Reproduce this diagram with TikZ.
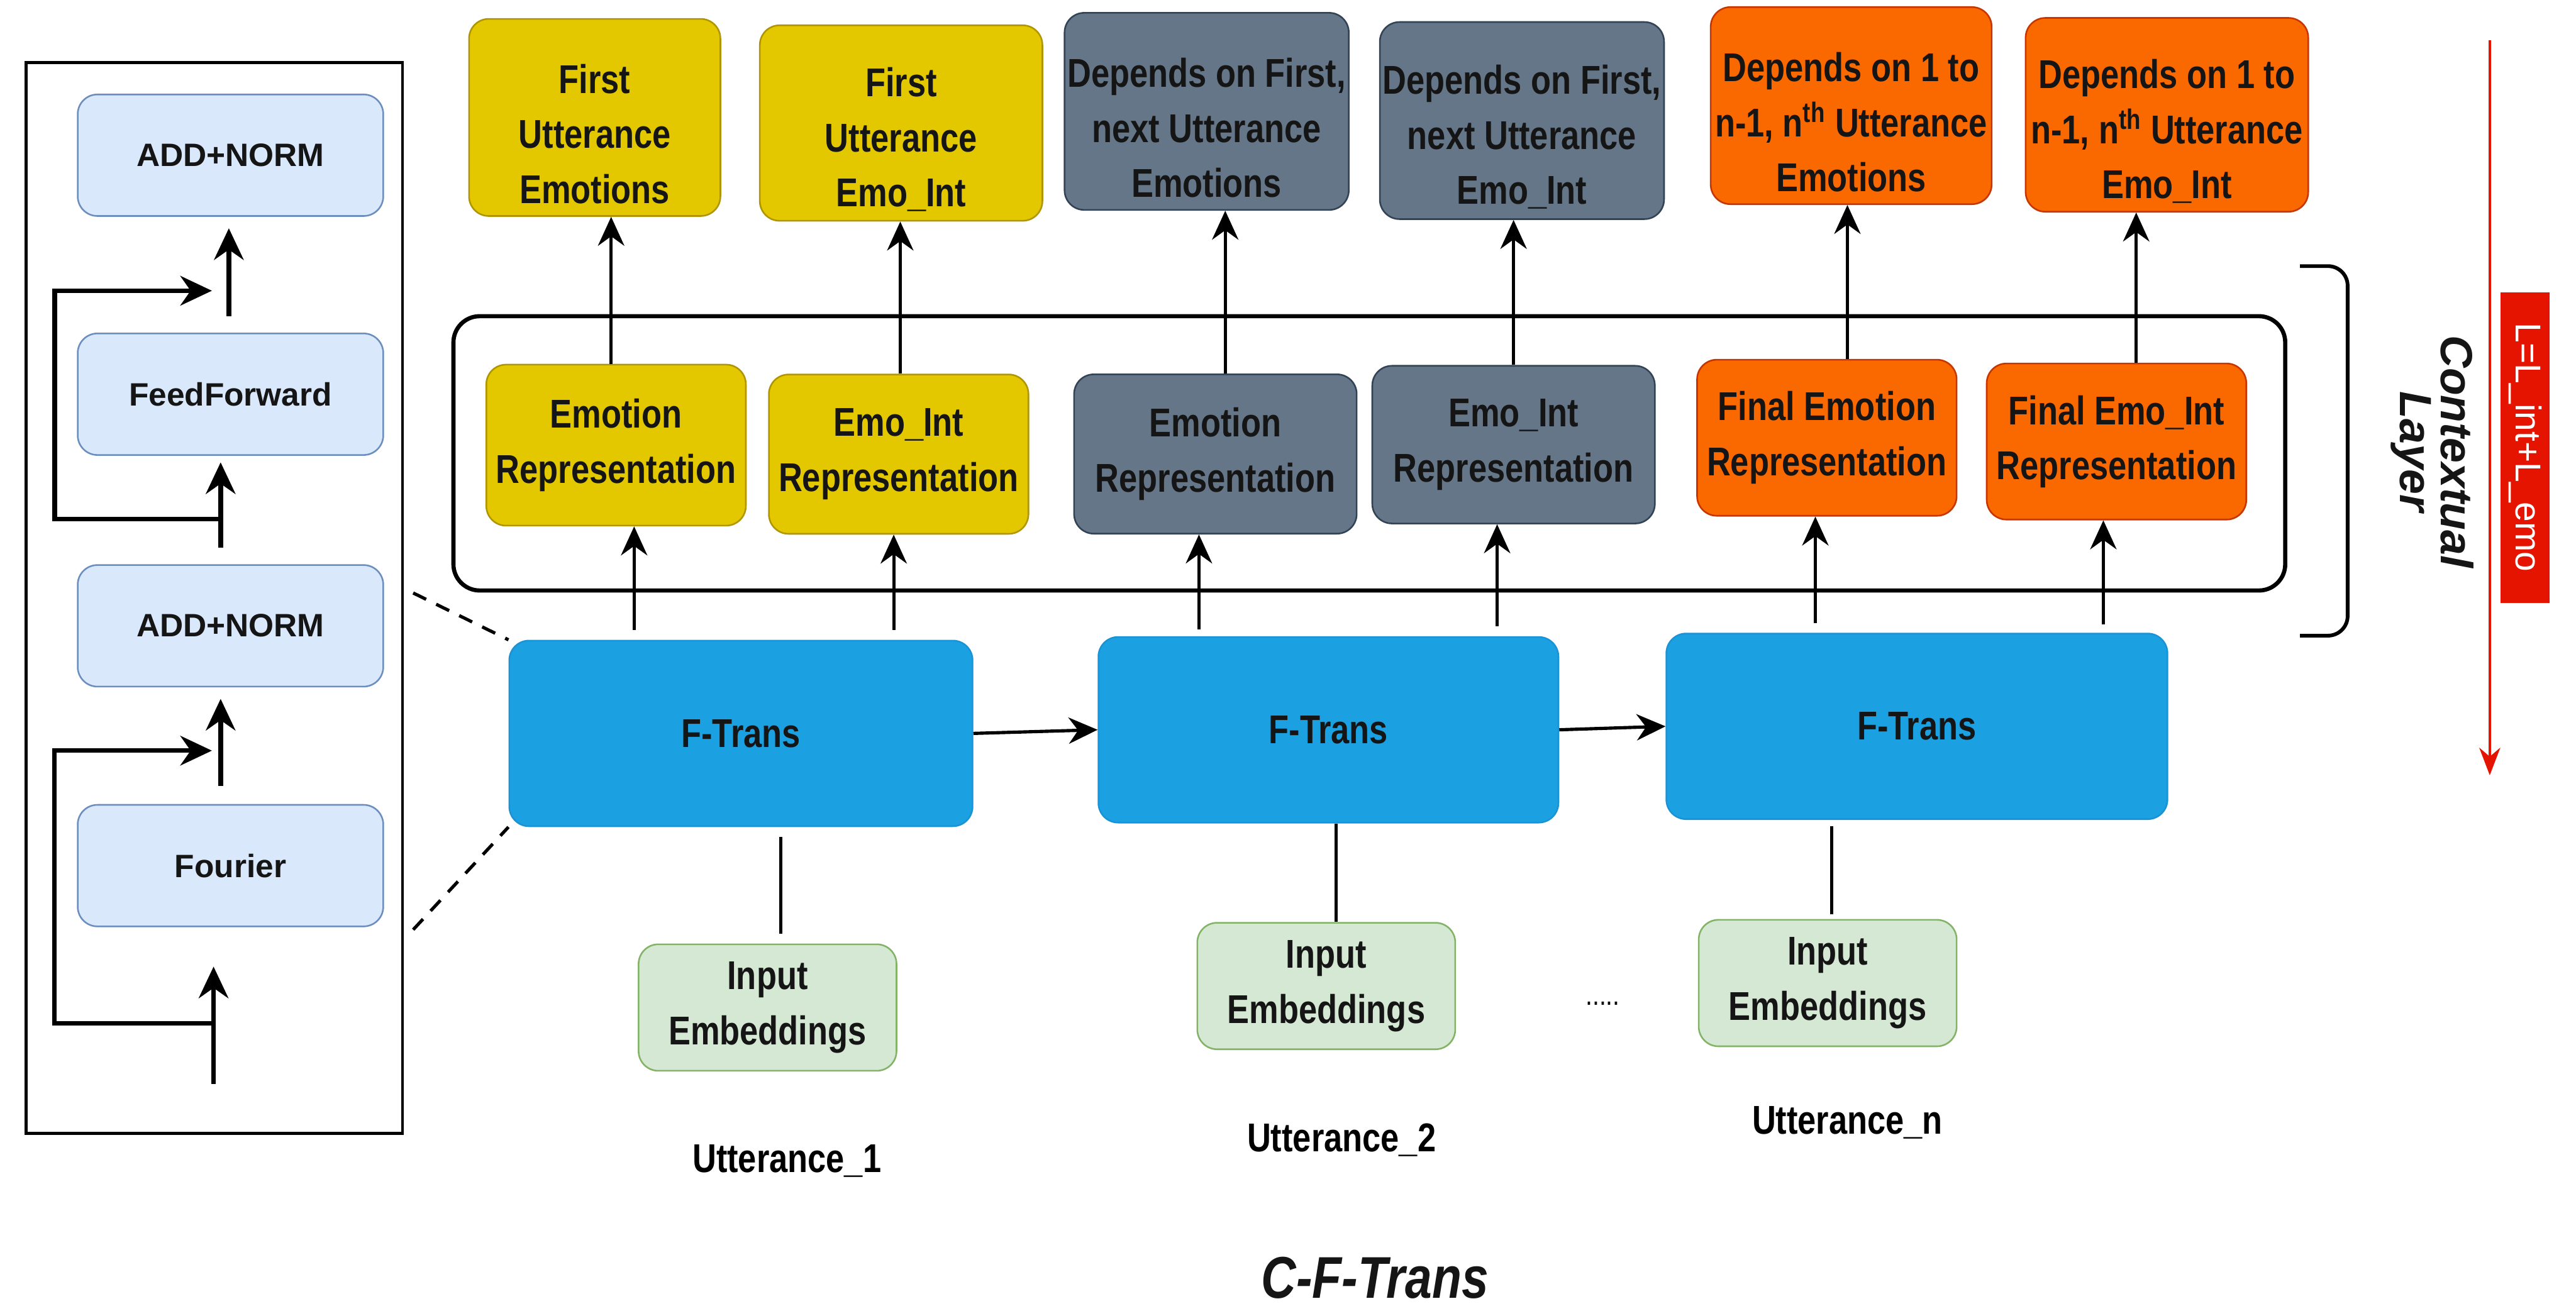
\documentclass[tikz,border=0pt]{standalone}
\usepackage{fontspec}
\setmainfont{Liberation Sans}
\newfontfamily\narrowfont{Liberation Sans}[FakeStretch=0.82]
\usetikzlibrary{arrows.meta,positioning}

\newlength\pxu
\setlength\pxu{0.025cm}

\definecolor{subfill}{HTML}{DAE8FC}
\definecolor{subline}{HTML}{6C8EBF}
\definecolor{embfill}{HTML}{D5E8D4}
\definecolor{embline}{HTML}{82B366}
\definecolor{ftfill}{HTML}{1BA1E2}
\definecolor{ftline}{HTML}{1A93D6}
\definecolor{yelfill}{HTML}{E3C800}
\definecolor{yelline}{HTML}{B09500}
\definecolor{grayfill}{HTML}{647687}
\definecolor{grayline}{HTML}{314354}
\definecolor{orafill}{HTML}{FA6800}
\definecolor{oraline}{HTML}{C73500}
\definecolor{lossred}{HTML}{E51400}
\definecolor{txt}{HTML}{151515}

\begin{document}
\begin{tikzpicture}[x=0.025cm, y=-0.025cm,
  box/.style={rectangle, rounded corners=12\pxu, draw, line width=0.7pt, inner sep=0pt, align=center, text=txt},
  narrowtxt/.style={font=\narrowfont\bfseries\fontsize{17.4}{23.8}\selectfont},
  sub/.style={box, fill=subfill, draw=subline, minimum width=186\pxu, minimum height=74\pxu, font=\bfseries\fontsize{14}{17}\selectfont},
  yel/.style={box, narrowtxt, fill=yelfill, draw=yelline},
  gry/.style={box, narrowtxt, fill=grayfill, draw=grayline},
  ora/.style={box, narrowtxt, fill=orafill, draw=oraline},
  lowtxt/.style={text height=74.5pt},
  ftrans/.style={box, narrowtxt, fill=ftfill, draw=ftline, minimum height=113\pxu},
  emb/.style={box, narrowtxt, fill=embfill, draw=embline, minimum width=157\pxu, minimum height=77\pxu},
  arr/.style={line width=1.4pt, -{Stealth[length=0.44cm, width=0.4cm]}},
  thickarr/.style={line width=2pt, -{Stealth[length=0.48cm, width=0.45cm]}},
  link/.style={line width=1.3pt}]

  \useasboundingbox (0,0) rectangle (1568,798);

  % 左のブロック (F-Trans の中身)
  \node[draw, line width=1.3pt, minimum width=229\pxu, minimum height=652\pxu] (panel) at (130.5,364) {};
  \node[sub] (an1) at (140.3,94.5) {ADD+NORM};
  \node[sub] (ff) at (140.3,240) {FeedForward};
  \node[sub] (an2) at (140.3,381) {ADD+NORM};
  \node[sub] (fou) at (140.3,527) {Fourier};

  \coordinate (in0) at (130,660);
  \draw[thickarr, shorten >=24\pxu] (in0) -- (in0 |- fou.south);
  \draw[thickarr, shorten <=11\pxu, shorten >=7\pxu] ([xshift=-6\pxu]fou.north) -- ([xshift=-6\pxu]an2.south);
  \draw[thickarr, shorten <=10\pxu, shorten >=4\pxu] ([xshift=-6\pxu]an2.north) -- ([xshift=-6\pxu]ff.south);
  \draw[thickarr, shorten <=10\pxu, shorten >=7\pxu] ([xshift=-1\pxu]ff.north) -- ([xshift=-1\pxu]an1.south);

  % 残差接続
  \coordinate (sk1) at (134.3,316);
  \coordinate (sk1e) at (129,177);
  \draw[thickarr] (sk1) -- ++(-101,0) |- (sk1e);
  \coordinate (sk2) at (130,623);
  \coordinate (sk2e) at (129,457);
  \draw[thickarr] (sk2) -- ++(-97,0) |- (sk2e);

  % F-Trans の列
  \node[ftrans, minimum width=282\pxu] (ft1) at (451,446.5) {F-Trans};
  \node[ftrans, minimum width=280\pxu] (ft2) at (808.6,444.3) {F-Trans};
  \node[ftrans, minimum width=305\pxu] (ft3) at (1166.8,442.2) {F-Trans};
  \draw[arr] (ft1.east) -- (ft2.west);
  \draw[arr] (ft2.east) -- (ft3.west);

  % 拡大の破線
  \coordinate (d1) at (251.5,361);
  \coordinate (d2) at (251.5,566);
  \draw[line width=1.4pt, dash pattern=on 0.22cm off 0.17cm] (d1) -- (ft1.north west);
  \draw[line width=1.4pt, dash pattern=on 0.22cm off 0.17cm] (d2) -- (ft1.south west);

  % 入力
  \node[emb] (ie1) at (467.2,613.4) {Input\\Embeddings};
  \node[emb] (ie2) at (807.3,600.3) {Input\\Embeddings};
  \node[emb] (ie3) at (1112.5,598.5) {Input\\Embeddings};
  \draw[link, shorten <=6\pxu, shorten >=6\pxu] ([xshift=8\pxu]ie1.north) -- ([xshift=8\pxu]ie1.north |- ft1.south);
  \draw[link] ([xshift=6\pxu]ie2.north) -- ([xshift=6\pxu]ie2.north |- ft2.south);
  \draw[link, shorten <=3\pxu, shorten >=4\pxu] ([xshift=2.5\pxu]ie3.north) -- ([xshift=2.5\pxu]ie3.north |- ft3.south);

  \node[narrowtxt, font=\narrowfont\fontsize{13}{15}\selectfont] (dots) at (975.6,611) {.....};
  \node[narrowtxt] (u1) at (479,707) {Utterance\_1};
  \node[narrowtxt] (u2) at (816.6,694) {Utterance\_2};
  \node[narrowtxt] (un) at (1124.5,683.6) {Utterance\_n};

  % 文脈層
  \node[draw, line width=1.8pt, rounded corners=16\pxu, minimum width=1115\pxu, minimum height=167\pxu] (ctx) at (833.5,276) {};

  \node[yel, minimum width=158\pxu, minimum height=98\pxu] (er1) at (375,271) {Emotion\\Representation};
  \node[yel, minimum width=158\pxu, minimum height=97\pxu] (ei1) at (547,276.5) {Emo\_Int\\Representation};
  \node[gry, minimum width=172\pxu, minimum height=97\pxu] (er2) at (739.8,276.4) {Emotion\\Representation};
  \node[gry, minimum width=172\pxu, minimum height=96\pxu] (ei2) at (921.3,270.7) {Emo\_Int\\Representation};
  \node[ora, minimum width=158\pxu, minimum height=95\pxu] (er3) at (1112,266.5) {Final Emotion\\Representation};
  \node[ora, minimum width=158\pxu, minimum height=95\pxu] (ei3) at (1288.3,268.8) {Final Emo\_Int\\Representation};

  % 出力
  \node[yel, lowtxt, minimum width=153\pxu, minimum height=120\pxu] (te1) at (362,71.5) {First\\Utterance\\Emotions};
  \node[yel, lowtxt, minimum width=172\pxu, minimum height=119\pxu] (ti1) at (548.5,74.9) {First\\Utterance\\Emo\_Int};
  \node[gry, lowtxt, minimum width=173\pxu, minimum height=120\pxu] (te2) at (734.5,67.8) {Depends on First,\\next Utterance\\Emotions};
  \node[gry, lowtxt, minimum width=173\pxu, minimum height=120\pxu] (ti2) at (926.4,73.4) {Depends on First,\\next Utterance\\Emo\_Int};
  \node[ora, lowtxt, minimum width=171\pxu, minimum height=120\pxu] (te3) at (1126.8,64.3) {Depends on 1 to\\n-1, n\textsuperscript{th} Utterance\\Emotions};
  \node[ora, lowtxt, minimum width=172\pxu, minimum height=118\pxu] (ti3) at (1319,69.9) {Depends on 1 to\\n-1, n\textsuperscript{th} Utterance\\Emo\_Int};

  % F-Trans -> 表現
  \draw[arr, shorten <=6\pxu] ([xshift=11\pxu]er1.south |- ft1.north) -- ([xshift=11\pxu]er1.south);
  \draw[arr, shorten <=6\pxu] ([xshift=-3\pxu]ei1.south |- ft1.north) -- ([xshift=-3\pxu]ei1.south);
  \draw[arr, shorten <=4\pxu] ([xshift=-10\pxu]er2.south |- ft2.north) -- ([xshift=-10\pxu]er2.south);
  \draw[arr, shorten <=6\pxu] ([xshift=-10\pxu]ei2.south |- ft2.north) -- ([xshift=-10\pxu]ei2.south);
  \draw[arr, shorten <=6\pxu] ([xshift=-7\pxu]er3.south |- ft3.north) -- ([xshift=-7\pxu]er3.south);
  \draw[arr, shorten <=5\pxu] ([xshift=-8\pxu]ei3.south |- ft3.north) -- ([xshift=-8\pxu]ei3.south);

  % 表現 -> 出力
  \draw[arr] ([xshift=-3\pxu]er1.north) -- ([xshift=-3\pxu]er1.north |- te1.south);
  \draw[arr] ([xshift=1\pxu]ei1.north) -- ([xshift=1\pxu]ei1.north |- ti1.south);
  \draw[arr] ([xshift=6\pxu]er2.north) -- ([xshift=6\pxu]er2.north |- te2.south);
  \draw[arr] (ei2.north) -- (ei2.north |- ti2.south);
  \draw[arr] ([xshift=12.5\pxu]er3.north) -- ([xshift=12.5\pxu]er3.north |- te3.south);
  \draw[arr] ([xshift=12\pxu]ei3.north) -- ([xshift=12\pxu]ei3.north |- ti3.south);

  % 右側の括弧とラベル
  \coordinate (brt) at (1400,162);
  \coordinate (brb) at (1400,387);
  \draw[line width=1.6pt, rounded corners=12\pxu] (brt) -| ([xshift=29\pxu]brb) -- (brb);
  \node[rotate=-90, align=center, font=\bfseries\itshape\fontsize{19.5}{17.8}\selectfont, text=txt] (ctxlab) at (1480.5,275) {Contextual\\Layer};

  \coordinate (ltop) at (1515.5,24.5);
  \coordinate (lbot) at (1515.5,472);
  \draw[line width=1pt, lossred, -{Stealth[length=0.42cm, width=0.32cm]}] (ltop) -- (lbot);
  \node[rotate=-90, fill=lossred, text=white, inner sep=0pt, minimum width=189\pxu, minimum height=30\pxu, font=\fontsize{15.5}{18}\selectfont] (loss) at (1537,272.5) {L=L\_int+L\_emo};

  % タイトル
  \node[font=\narrowfont\bfseries\itshape\fontsize{25.5}{30}\selectfont, text=txt] (title) at (837,778) {C-F-Trans};

\end{tikzpicture}
\end{document}
